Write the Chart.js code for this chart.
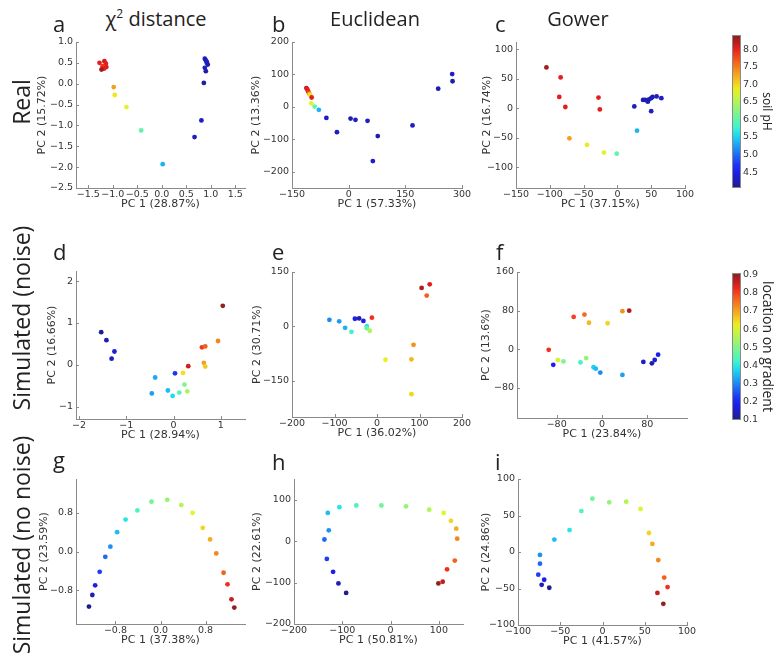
<!DOCTYPE html>
<html>
<head>
<meta charset="utf-8">
<script src="https://cdn.jsdelivr.net/npm/chart.js@4/dist/chart.umd.min.js"></script>
<style>
  body { margin: 0; width: 776px; height: 656px; background: #fff; position: relative; overflow: hidden; font-family: "Open Sans", sans-serif; color: #222; }
  canvas { position: absolute; }
  .t { position: absolute; white-space: nowrap; line-height: 1; }
  .rot { transform: translate(-50%, -50%) rotate(-90deg); }
  sup { font-size: 60%; vertical-align: 0.7em; line-height: 0; }
</style>
</head>
<body>
<script>
// ---- real data, coloured by soil pH ----
const aX = [-1.27, -1.17, -1.14, -1.21, -1.18, -1.13, -1.23, -0.98, -0.96, -0.72, -0.42, 0.02, 0.67, 0.81, 0.86, 0.88, 0.90, 0.92, 0.94, 0.88, 0.90, 0.92];
const aY = [0.50, 0.54, 0.48, 0.42, 0.36, 0.40, 0.34, -0.08, -0.27, -0.56, -1.12, -1.93, -1.28, -0.88, 0.02, 0.60, 0.56, 0.50, 0.46, 0.38, 0.30, 0.52];
const aPH = [8.0, 8.1, 8.0, 7.9, 8.0, 8.0, 8.3, 7.3, 6.9, 6.8, 6.0, 5.35, 4.3, 4.3, 4.2, 4.3, 4.2, 4.3, 4.2, 4.3, 4.2, 4.3];

const bX = [-112, -110, -108, -106, -104, -102, -98, -99, -90, -79, -59, -31, 5, 18, 50, 77, 64, 169, 237, 274, 275];
const bY = [58, 55, 50, 45, 40, 37, 29, 11, 1, -9, -34, -78, -36, -40, -43, -90, -167, -57, 56, 101, 79];
const bPH = [8.2, 8.0, 8.0, 7.9, 7.3, 6.9, 8.0, 6.8, 6.0, 5.35, 4.3, 4.3, 4.2, 4.3, 4.3, 4.2, 4.3, 4.3, 4.2, 4.3, 4.2];

const cX = [-105, -84, -86, -77, -28, -26, -71, -45, -20, -1, 29, 25, 50, 38, 41, 44, 45, 47, 50, 52, 58, 65];
const cY = [69, 52, 19, 2, 18, -2, -51, -62, -75, -77, -38, 3, -5, 14, 14, 13, 11, 15, 17, 19, 20, 17];
const cPH = [8.3, 8.0, 8.0, 8.0, 8.0, 8.0, 7.3, 6.9, 6.8, 6.0, 5.35, 4.3, 4.3, 4.2, 4.3, 4.2, 4.3, 4.2, 4.3, 4.2, 4.3, 4.3];

// ---- simulated with noise, coloured by location on gradient ----
const dX = [-1.53, -1.42, -1.25, -1.31, -0.39, -0.46, -0.12, -0.02, 0.03, 0.12, 0.20, 0.23, 0.29, 0.31, 0.60, 0.67, 0.64, 0.67, 0.94, 1.04];
const dY = [0.78, 0.59, 0.32, 0.15, -0.30, -0.68, -0.61, -0.74, -0.20, -0.66, -0.19, -0.47, -0.63, -0.03, 0.42, 0.44, 0.05, -0.04, 0.57, 1.41];
const dLoc = [0.11, 0.13, 0.16, 0.14, 0.33, 0.32, 0.35, 0.38, 0.22, 0.45, 0.64, 0.50, 0.55, 0.85, 0.81, 0.77, 0.70, 0.66, 0.73, 0.90];

const eX = [-112, -89, -75, -60, -52, -42, -32, -24, -24, -17, -12, 20, 81, 86, 81, 105, 124, 117];
const eY = [18, 14, -4, -15, 21, 22, 15, 0, -5, -12, 24, -92, -91, -51, -187, 106, 116, 85];
const eLoc = [0.30, 0.32, 0.34, 0.42, 0.20, 0.13, 0.17, 0.38, 0.47, 0.55, 0.82, 0.62, 0.68, 0.72, 0.65, 0.88, 0.84, 0.77];

const fX = [-94, -86, -78, -68, -50, -31, -23, -38, -28, -15, -11, -3, 10, 36, 48, 36, 73, 88, 93, 99];
const fY = [-1, -32, -22, -25, 67, 72, 55, -27, -18, -37, -40, -48, 54, 79, 80, -53, -26, -29, -22, -11];
const fLoc = [0.82, 0.20, 0.60, 0.50, 0.80, 0.76, 0.68, 0.43, 0.52, 0.37, 0.35, 0.30, 0.65, 0.72, 0.88, 0.32, 0.15, 0.12, 0.17, 0.18];

// ---- simulated without noise ----
const gradLoc = [0.10, 0.14, 0.18, 0.23, 0.27, 0.31, 0.35, 0.39, 0.44, 0.48, 0.52, 0.56, 0.61, 0.65, 0.69, 0.73, 0.77, 0.82, 0.86, 0.90];
const gX = [-1.27, -1.21, -1.16, -1.08, -0.98, -0.89, -0.77, -0.62, -0.41, -0.16, 0.12, 0.37, 0.57, 0.75, 0.88, 0.99, 1.12, 1.19, 1.26, 1.31];
const gY = [-1.14, -0.90, -0.70, -0.42, -0.11, 0.10, 0.40, 0.66, 0.85, 1.03, 1.07, 0.96, 0.80, 0.49, 0.25, -0.04, -0.44, -0.68, -0.99, -1.16];
const hX = [-92, -108, -119, -132, -137, -128, -130, -106, -71, -19, 32, 80, 110, 125, 136, 138, 133, 117, 108, 99];
const hY = [-125, -102, -74, -43, 4, 26, 68, 82, 86, 86, 84, 76, 68, 49, 30, 6, -47, -68, -98, -102];
const iX = [-63, -72, -69, -76, -74, -74, -57, -39, -25, -12, 8, 28, 45, 55, 59, 66, 73, 77, 65, 72];
const iY = [-49, -45, -38, -31, -16, -4, 17, 30, 56, 73, 68, 69, 59, 26, 11, -11, -35, -48, -56, -71];

const phRange = [4.05, 8.4];
const locRange = [0.098, 0.91];

// matplotlib jet, a little washed out like the print
function jet(t) {
  t = Math.max(0, Math.min(1, t));
  const lerp = (pts) => {
    for (let k = 1; k < pts.length; k++) {
      if (t <= pts[k][0]) {
        const [x0, y0] = pts[k - 1], [x1, y1] = pts[k];
        return y0 + (y1 - y0) * (t - x0) / (x1 - x0);
      }
    }
    return pts[pts.length - 1][1];
  };
  const r = lerp([[0, 0], [0.35, 0], [0.66, 1], [0.89, 1], [1, 0.5]]);
  const g = lerp([[0, 0], [0.125, 0], [0.375, 1], [0.64, 1], [0.91, 0], [1, 0]]);
  const b = lerp([[0, 0.5], [0.11, 1], [0.34, 1], [0.65, 0], [1, 0]]);
  const k = 0.16, m = 185;
  const f = v => Math.round(v * 255 * (1 - k) + m * k);
  return `rgb(${f(r)},${f(g)},${f(b)})`;
}

const fmt = (v, dec) => (Math.abs(v) < 1e-9 ? 0 : v).toFixed(dec).replace('-', '\u2212');

const inTicks = {
  id: 'inTicks',
  beforeDatasetsDraw(chart) {
    const { ctx, chartArea: a, scales: { x, y } } = chart;
    ctx.save();
    ctx.strokeStyle = '#8a8a8a';
    ctx.lineWidth = 1;
    ctx.beginPath();
    x.ticks.forEach(t => {
      const px = Math.round(x.getPixelForValue(t.value)) + 0.5;
      ctx.moveTo(px, a.bottom); ctx.lineTo(px, a.bottom - 3);
    });
    y.ticks.forEach(t => {
      const py = Math.round(y.getPixelForValue(t.value)) + 0.5;
      ctx.moveTo(a.left, py); ctx.lineTo(a.left + 3, py);
    });
    ctx.stroke();
    ctx.restore();
  }
};

function addCanvas(left, top, w, h) {
  const cv = document.createElement('canvas');
  cv.width = w; cv.height = h;
  cv.style.left = left + 'px'; cv.style.top = top + 'px';
  cv.style.width = w + 'px'; cv.style.height = h + 'px';
  document.body.appendChild(cv);
  return cv;
}

function panel(p) {
  const padT = 10, padR = 16, H = 23;
  const left = Math.round(p.ytx - 6.6);
  const W = p.L - left;
  const cv = addCanvas(left, p.T - padT, p.R - left + padR, p.B - p.T + padT + H);
  const axis = (min, max, step, title, isX) => ({
    type: 'linear', min, max,
    grid: { display: false, drawTicks: false },
    border: { display: true, color: '#8a8a8a', width: 1 },
    ticks: {
      stepSize: step, includeBounds: false, autoSkip: false, maxRotation: 0,
      padding: isX ? 1 : 3, color: '#333',
      font: { family: 'DejaVu Sans', size: 9.5 },
      callback: v => fmt(v, p.dec)
    },
    title: { display: true, text: title, color: '#333', padding: 0, font: { family: 'DejaVu Sans', size: 11 } },
    afterFit: s => { if (isX) s.height = H; else s.width = W; }
  });
  const [lo, hi] = p.range;
  new Chart(cv, {
    type: 'scatter',
    data: {
      datasets: [{
        data: p.x.map((v, i) => ({ x: v, y: p.y[i] })),
        pointBackgroundColor: p.c.map(v => jet((v - lo) / (hi - lo))),
        pointBorderWidth: 0,
        pointRadius: 2.4,
        pointHoverRadius: 2.4
      }]
    },
    options: {
      responsive: false, animation: false, events: [],
      layout: { padding: { top: padT, right: padR, left: 0, bottom: 0 } },
      plugins: { legend: { display: false }, tooltip: { enabled: false } },
      scales: {
        x: axis(p.xr[0], p.xr[1], p.xs, p.xt, true),
        y: axis(p.yr[0], p.yr[1], p.ys, p.yt, false)
      }
    },
    plugins: [inTicks]
  });
}

function colorbar(cb) {
  const pad = 10;
  const cv = addCanvas(cb.L, cb.T - pad, cb.R - cb.L + cb.W, cb.B - cb.T + 2 * pad);
  const barFill = {
    id: 'barFill',
    beforeDraw(chart) {
      const { ctx, chartArea: a, scales: { y } } = chart;
      const y0 = y.getPixelForValue(cb.range[0]), y1 = y.getPixelForValue(cb.range[1]);
      const grad = ctx.createLinearGradient(0, y0, 0, y1);
      for (let s = 0; s <= 20; s++) grad.addColorStop(s / 20, jet(s / 20));
      ctx.save();
      ctx.fillStyle = grad;
      ctx.fillRect(a.left, a.top, a.right - a.left, a.bottom - a.top);
      ctx.strokeStyle = '#8a8a8a';
      ctx.lineWidth = 1;
      ctx.strokeRect(a.left + 0.5, a.top + 0.5, a.right - a.left - 1, a.bottom - a.top - 1);
      ctx.restore();
    }
  };
  new Chart(cv, {
    type: 'scatter',
    data: { datasets: [] },
    options: {
      responsive: false, animation: false, events: [],
      layout: { padding: { top: pad, bottom: pad, left: 0, right: 0 } },
      plugins: { legend: { display: false }, tooltip: { enabled: false } },
      scales: {
        x: { display: false, min: 0, max: 1 },
        y: {
          type: 'linear', position: 'right', min: cb.range[0], max: cb.range[1],
          grid: { display: false, drawTicks: false },
          border: { display: false },
          ticks: {
            stepSize: cb.step, includeBounds: false, autoSkip: false, padding: 2, color: '#333',
            font: { family: 'DejaVu Sans', size: 9.5 }, callback: v => fmt(v, 1)
          },
          title: { display: true, text: cb.title, color: '#222', padding: 0, font: { family: 'Open Sans', size: cb.fs } },
          afterFit: s => { s.width = cb.W; }
        }
      }
    },
    plugins: [barFill]
  });
}

const panels = [
  { x: aX, y: aY, c: aPH, range: phRange, L: 76, T: 42, R: 245, B: 188, xr: [-1.75, 1.7], yr: [-2.5, 1.0], xs: 0.5, ys: 0.5, dec: 1, xt: 'PC 1 (28.87%)', yt: 'PC 2 (15.72%)', ytx: 43 },
  { x: bX, y: bY, c: bPH, range: phRange, L: 292, T: 42, R: 462, B: 188, xr: [-150, 300], yr: [-250, 200], xs: 150, ys: 100, dec: 0, xt: 'PC 1 (57.33%)', yt: 'PC 2 (13.36%)', ytx: 257 },
  { x: cX, y: cY, c: cPH, range: phRange, L: 516, T: 42, R: 685, B: 188, xr: [-150, 100], yr: [-135, 112], xs: 50, ys: 50, dec: 0, xt: 'PC 1 (37.15%)', yt: 'PC 2 (16.74%)', ytx: 488 },
  { x: dX, y: dY, c: dLoc, range: locRange, L: 76, T: 271, R: 245, B: 419, xr: [-2.063, 1.51], yr: [-1.29, 2.24], xs: 1, ys: 1, dec: 0, xt: 'PC 1 (28.94%)', yt: 'PC 2 (16.66%)', ytx: 53 },
  { x: eX, y: eY, c: eLoc, range: locRange, L: 292, T: 272, R: 462, B: 417, xr: [-200, 200], yr: [-250, 150], xs: 100, ys: 150, dec: 0, xt: 'PC 1 (36.02%)', yt: 'PC 2 (30.71%)', ytx: 258 },
  { x: fX, y: fY, c: fLoc, range: locRange, L: 517, T: 272, R: 687, B: 418, xr: [-150, 150], yr: [-142, 160], xs: 80, ys: 80, dec: 0, xt: 'PC 1 (23.84%)', yt: 'PC 2 (13.6%)', ytx: 487 },
  { x: gX, y: gY, c: gradLoc, range: locRange, L: 76, T: 479, R: 245, B: 624, xr: [-1.5, 1.5], yr: [-1.5, 1.5], xs: 0.8, ys: 0.8, dec: 1, xt: 'PC 1 (37.38%)', yt: 'PC 2 (23.59%)', ytx: 45 },
  { x: hX, y: hY, c: gradLoc, range: locRange, L: 294, T: 479, R: 463, B: 624, xr: [-200, 150], yr: [-200, 150], xs: 100, ys: 100, dec: 0, xt: 'PC 1 (50.81%)', yt: 'PC 2 (22.61%)', ytx: 258 },
  { x: iX, y: iY, c: gradLoc, range: locRange, L: 518, T: 479, R: 687, B: 625, xr: [-100, 100], yr: [-100, 100], xs: 50, ys: 50, dec: 0, xt: 'PC 1 (41.57%)', yt: 'PC 2 (24.86%)', ytx: 487 }
];
panels.forEach(panel);

colorbar({ L: 732, R: 741, T: 35, B: 188, W: 33, range: phRange, step: 0.5, title: 'soil pH', fs: 12 });
colorbar({ L: 732, R: 741, T: 273, B: 420, W: 34, range: locRange, step: 0.1, title: 'location on gradient', fs: 14 });

// text: column titles, panel letters, row labels
function label(html, x, baseline, size) {
  const d = document.createElement('div');
  d.className = 't';
  d.innerHTML = html;
  d.style.fontSize = size + 'px';
  d.style.left = x + 'px';
  d.style.top = (baseline - 0.888 * size) + 'px';
  document.body.appendChild(d);
  return d;
}
function centred(html, cx, baseline, size) {
  const d = label(html, cx, baseline, size);
  d.style.transform = 'translateX(-50%)';
}
centred('\u03c7<sup>2</sup> distance', 156, 27, 20);
centred('Euclidean', 375, 27, 20);
centred('Gower', 578, 27, 20);

[['a', 53, 32], ['b', 272, 32], ['c', 495, 32],
 ['d', 53, 260], ['e', 272, 260], ['f', 496, 260],
 ['g', 53, 468], ['h', 272, 470], ['i', 495, 470]].forEach(([t, x, y]) => label(t, x, y, 22));

[['Real', 102], ['Simulated (noise)', 318], ['Simulated (no noise)', 545]].forEach(([t, cy]) => {
  const d = document.createElement('div');
  d.className = 't rot';
  d.textContent = t;
  d.style.fontSize = '23px';
  d.style.left = '21px';
  d.style.top = cy + 'px';
  document.body.appendChild(d);
});
</script>
</body>
</html>
